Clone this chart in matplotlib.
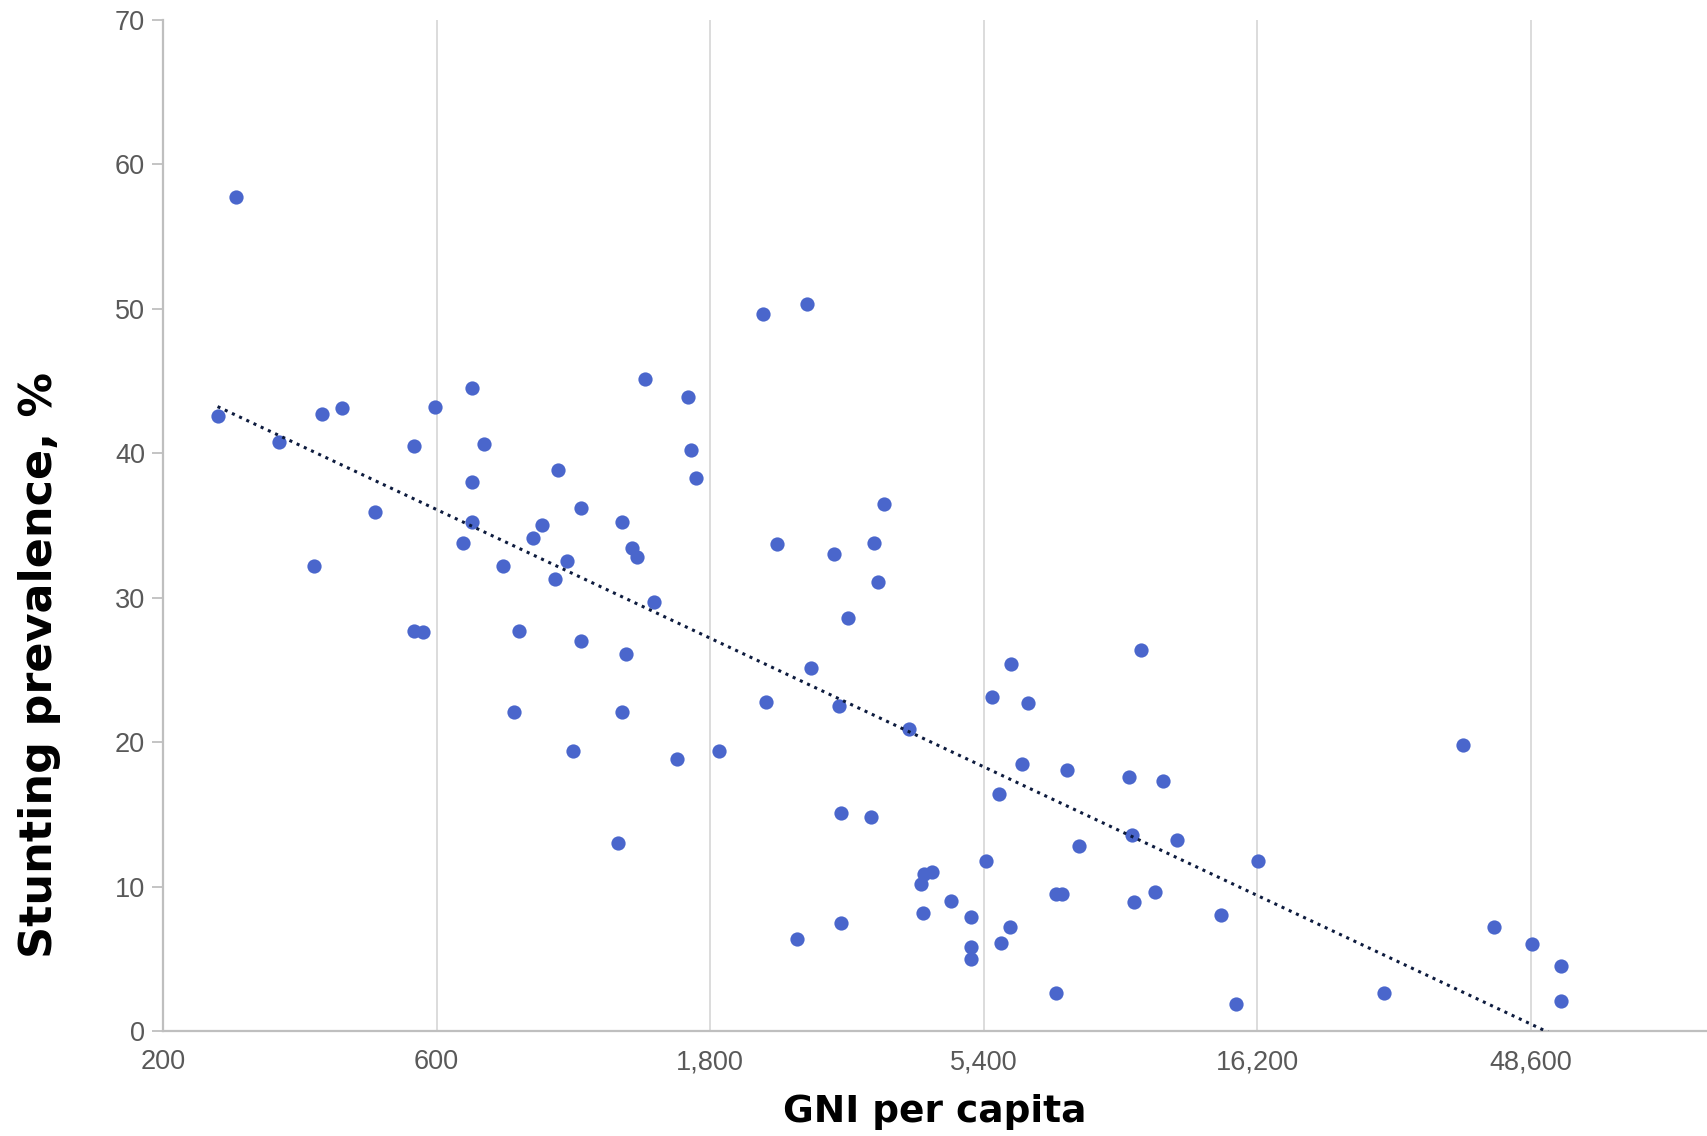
import numpy as np
import matplotlib
matplotlib.use("Agg")
import matplotlib.pyplot as plt
from matplotlib.ticker import FixedLocator, FuncFormatter, NullLocator

# GNI per capita (US$) and stunting prevalence (%)
gni = [249, 268, 319, 367, 379, 410, 469, 547, 547, 569,
       597, 666, 693, 693, 693, 727, 783, 818, 836, 885,
       916, 966, 978, 1013, 1040, 1073, 1073, 1244, 1266, 1266,
       1283, 1317, 1341, 1388, 1438, 1576, 1646, 1668, 1698, 1869,
       2226, 2256, 2357, 2550, 2652, 2699, 2958, 3024, 3050, 3050,
       3131, 3433, 3478, 3539, 3618, 4000, 4198, 4234, 4253, 4385,
       4745, 5133, 5133, 5133, 5458, 5578, 5751, 5802, 6008, 6035,
       6304, 6443, 7219, 7219, 7411, 7542, 7914, 9678, 9805, 9892,
       10154, 10748, 11083, 11731, 14034, 14856, 16284, 26932, 37060, 41880,
       48820, 54940, 54940]
stunting = [42.6, 57.7, 40.8, 32.2, 42.7, 43.1, 35.9, 40.5, 27.7, 27.6,
            43.2, 33.8, 44.5, 38.0, 35.2, 40.6, 32.2, 22.1, 27.7, 34.1,
            35.0, 31.3, 38.8, 32.5, 19.4, 36.2, 27.0, 13.0, 35.2, 22.1,
            26.1, 33.4, 32.8, 45.1, 29.7, 18.8, 43.9, 40.2, 38.3, 19.4,
            49.6, 22.8, 33.7, 6.4, 50.3, 25.1, 33.0, 22.5, 15.1, 7.5,
            28.6, 14.8, 33.8, 31.1, 36.5, 20.9, 10.2, 8.2, 10.9, 11.0,
            9.0, 7.9, 5.8, 5.0, 11.8, 23.1, 16.4, 6.1, 7.2, 25.4,
            18.5, 22.7, 2.6, 9.5, 9.5, 18.1, 12.8, 17.6, 13.6, 8.9,
            26.4, 9.6, 17.3, 13.2, 8.0, 1.9, 11.8, 2.6, 19.8, 7.2,
            6.0, 4.5, 2.1]

x_ticks = [200, 600, 1800, 5400, 16200, 48600]
y_ticks = [0, 10, 20, 30, 40, 50, 60, 70]

fig = plt.figure(figsize=(17.07, 11.36), dpi=100)
ax = fig.add_axes([0.0955, 0.0924, 0.9045, 0.8903])

ax.scatter(gni, stunting, s=105, color="#4a66cc", zorder=3, linewidths=0)

# logarithmic trend line, fitted on the data
lx = np.log(gni)
b, a = np.polyfit(lx, stunting, 1)
xs = np.linspace(lx.min(), lx.max(), 200)
ax.plot(np.exp(xs), a + b * xs, linestyle=(0, (1, 1.6)), color="#0d1b3e",
        linewidth=2.2, zorder=4)

ax.set_xscale("log")
ax.set_xlim(200, 200 * 3 ** 5.645)
ax.set_ylim(0, 70)
ax.xaxis.set_major_locator(FixedLocator(x_ticks))
ax.xaxis.set_minor_locator(NullLocator())
ax.xaxis.set_major_formatter(FuncFormatter(lambda v, p: f"{v:,.0f}"))
ax.yaxis.set_major_locator(FixedLocator(y_ticks))

ax.grid(axis="x", color="#d9d9d9", linewidth=1.3, zorder=0)
for side in ["top", "right"]:
    ax.spines[side].set_visible(False)
for side in ["left", "bottom"]:
    ax.spines[side].set_color("#bfbfbf")
    ax.spines[side].set_linewidth(1.6)

ax.tick_params(axis="y", length=8, width=1.3, color="#bfbfbf",
               labelsize=19.5, labelcolor="#595959", pad=5)
ax.tick_params(axis="x", length=0, labelsize=19.5, labelcolor="#595959", pad=13)
for lab in ax.get_xticklabels() + ax.get_yticklabels():
    lab.set_family("Liberation Sans")

ax.set_xlabel("GNI per capita", fontsize=27, fontweight="bold",
              family="DejaVu Sans")
ax.xaxis.set_label_coords(0.5, -0.062)
ax.set_ylabel("Stunting prevalence, %", fontsize=32, fontweight="bold",
              family="DejaVu Sans")
ax.yaxis.set_label_coords(-0.066, 0.362)

fig.savefig("out.png", dpi=100)
